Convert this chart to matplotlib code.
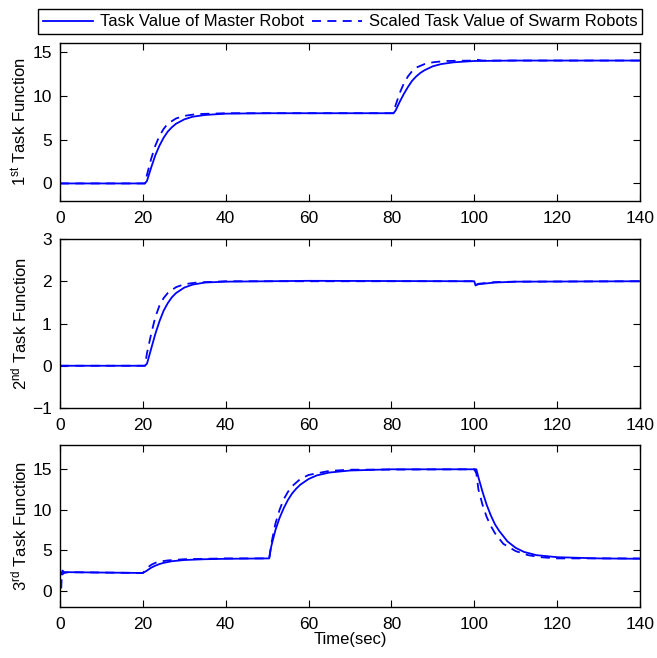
import numpy as np
import matplotlib.pyplot as plt

plt.rcParams.update({
    "font.family": "Liberation Sans",
    "mathtext.fontset": "custom",
    "mathtext.rm": "Liberation Sans",
    "mathtext.it": "Liberation Sans",
    "font.size": 12,
    "xtick.direction": "in",
    "ytick.direction": "in",
    "xtick.top": True,
    "ytick.right": True,
    "axes.linewidth": 1.0,
})

# Task 1
t1_m = [0, 20.5, 21, 22, 23, 24, 25, 26, 27, 28, 30, 32, 35, 40, 50, 80.5, 81, 82, 83, 84,
        85, 86, 87, 88, 90, 92, 95, 100, 110, 140]
y1_m = [0, 0, 0.3, 1.8, 3.2, 4.3, 5.2, 5.9, 6.4, 6.8, 7.3, 7.6, 7.8, 7.95, 8.0, 8.0, 8.3, 9.3,
        10.2, 11.0, 11.7, 12.2, 12.6, 12.9, 13.35, 13.6, 13.8, 13.95, 14.0, 14.0]
t1_s = [0, 20.5, 21, 22, 23, 24, 25, 26, 28, 30, 33, 40, 80.5, 81, 82, 83, 84, 85, 86, 88,
        90, 93, 100, 100.5, 102, 140]
y1_s = [0, 0, 1.0, 2.8, 4.3, 5.4, 6.2, 6.8, 7.4, 7.7, 7.9, 8.0, 8.0, 8.9, 10.3, 11.4, 12.2,
        12.8, 13.2, 13.6, 13.8, 13.95, 14.0, 14.1, 14.0, 14.0]

# Task 2
t2_m = [0, 20.5, 21, 22, 23, 24, 25, 26, 27, 28, 30, 32, 35, 40, 60, 100, 100.3, 101, 105,
        110, 140]
y2_m = [0, 0, 0.05, 0.4, 0.75, 1.05, 1.3, 1.48, 1.62, 1.72, 1.85, 1.92, 1.97, 1.99, 2.01,
        2.0, 1.9, 1.93, 1.97, 1.99, 2.0]
t2_s = [0, 20.5, 21, 22, 23, 24, 25, 26, 28, 30, 33, 40, 100, 100.3, 101, 105, 110, 140]
y2_s = [0, 0, 0.3, 0.75, 1.15, 1.42, 1.6, 1.72, 1.86, 1.93, 1.97, 2.0, 2.0, 1.92, 1.94,
        1.98, 1.99, 2.0]

# Task 3
t3_m = [0, 0.5, 1, 2, 20, 21, 22, 23, 24, 25, 27, 30, 35, 40, 50.5, 51, 52, 53, 54, 55, 56,
        57, 58, 60, 62, 65, 70, 80, 100.5, 101, 102, 103, 104, 105, 106, 108, 110, 112, 115,
        120, 130, 140]
y3_m = [2.5, 2.0, 2.2, 2.3, 2.2, 2.5, 2.85, 3.1, 3.3, 3.45, 3.65, 3.8, 3.9, 3.95, 4.0, 5.5,
        7.5, 9.0, 10.2, 11.2, 12.0, 12.6, 13.1, 13.8, 14.25, 14.6, 14.85, 15.0, 15.0, 14.0,
        12.2, 10.6, 9.3, 8.2, 7.4, 6.1, 5.3, 4.8, 4.4, 4.15, 4.0, 3.95]
t3_s = [0.3, 0.4, 0.6, 1, 20, 21, 22, 23, 24, 26, 30, 40, 50.5, 51, 52, 53, 54, 55, 56, 58, 60,
        65, 70, 100, 100.5, 101, 102, 103, 104, 105, 107, 110, 113, 116, 120, 140]
y3_s = [0.3, 1.5, 2.5, 2.3, 2.2, 2.8, 3.2, 3.45, 3.6, 3.75, 3.9, 4.0, 4.0, 5.8, 8.3, 10.0,
        11.3, 12.2, 12.9, 13.8, 14.3, 14.8, 14.95, 15.0, 14.5, 12.5, 10.6, 9.1, 8.0, 7.1,
        5.8, 4.9, 4.4, 4.15, 4.0, 4.0]

ylabels = [r'1$^{\rm st}$ Task Function', r'2$^{\rm nd}$ Task Function',
           r'3$^{\rm rd}$ Task Function']
ylims = [(-2, 16), (-1, 3), (-2, 18)]
yticks = [[0, 5, 10, 15], [-1, 0, 1, 2, 3], [0, 5, 10, 15]]
series = [(t1_m, y1_m, t1_s, y1_s), (t2_m, y2_m, t2_s, y2_s), (t3_m, y3_m, t3_s, y3_s)]

W, H = 657, 658
# axes boxes in pixels: (top, bottom)
boxes = [(43, 201), (239, 408), (445, 607)]
x0, x1 = 60, 640

fig = plt.figure(figsize=(W / 100, H / 100), dpi=100)
blue = (0, 0, 1)
for k, (top, bot) in enumerate(boxes):
    ax = fig.add_axes([x0 / W, 1 - bot / H, (x1 - x0) / W, (bot - top) / H])
    tm, ym, ts, ys = series[k]
    hm, = ax.plot(tm, ym, '-', color=blue, lw=1.3)
    hs, = ax.plot(ts, ys, '--', color=blue, lw=1.3, dashes=(5, 3.5))
    ax.set_xlim(0, 140)
    ax.set_xticks(np.arange(0, 141, 20))
    ax.set_ylim(*ylims[k])
    ax.set_yticks(yticks[k])
    ax.set_ylabel(ylabels[k], labelpad=2)
    ax.tick_params(length=5, width=0.8, labelsize=12.5)
    ax.tick_params(axis='x', pad=7)
    ax.tick_params(axis='y', pad=6)
    if k == 2:
        ax.set_xlabel('Time(sec)', labelpad=0)

fig.legend([hm, hs], ['Task Value of Master Robot', 'Scaled Task Value of Swarm Robots'],
           loc='upper center', bbox_to_anchor=(340 / W, 1 - 1 / H), ncol=2,
           fancybox=False, edgecolor='black', framealpha=1, fontsize=12,
           handlelength=3.0, columnspacing=0.5, handletextpad=0.4,
           borderpad=0.3)

fig.savefig('out.png', dpi=100)
